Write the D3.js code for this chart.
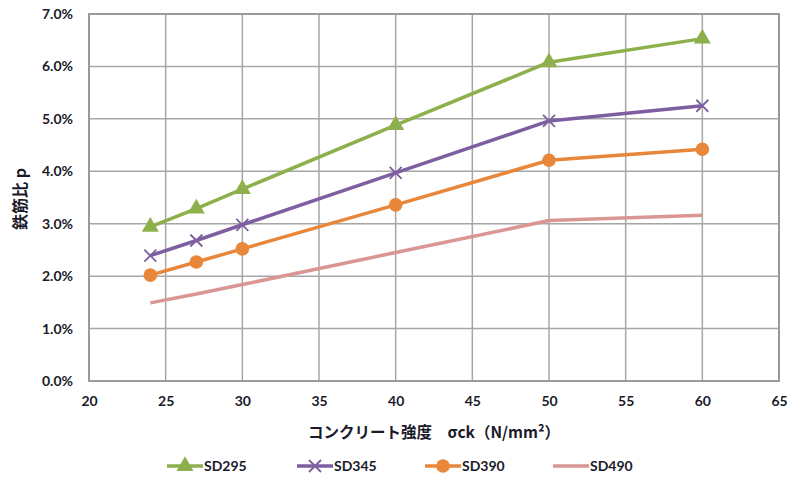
<!DOCTYPE html>
<html><head><meta charset="utf-8">
<script src="https://cdn.jsdelivr.net/npm/d3@7"></script>
<style>body{margin:0;background:#fff}svg{display:block}</style>
</head><body><svg id="c" width="792" height="479"></svg>
<script>
const strength = [24, 27, 30, 40, 50, 60];
const sd295 = [2.94, 3.29, 3.66, 4.88, 6.08, 6.53];
const sd345 = [2.39, 2.68, 2.98, 3.97, 4.96, 5.25];
const sd390 = [2.02, 2.27, 2.52, 3.36, 4.21, 4.42];
const sd490 = [1.49, 1.66, 1.84, 2.45, 3.06, 3.16];
const seriesNames = ["SD295", "SD345", "SD390", "SD490"];
const xTicks = [20, 25, 30, 35, 40, 45, 50, 55, 60, 65];
const yTicks = [0, 1, 2, 3, 4, 5, 6, 7];

const colors = ["#8DB04C", "#7D5FA1", "#E8873A", "#D99694"];
const markers = ["triangle", "x", "circle", "none"];
const data = [sd295, sd345, sd390, sd490];

const svg = d3.select("#c");
const L = 89, R = 779, T = 14, B = 381;
const x = d3.scaleLinear().domain([20, 65]).range([L, R]);
const y = d3.scaleLinear().domain([0, 7]).range([B, T]);
const font = "Lato, 'Liberation Sans', sans-serif";
const txt = "#1a1a2a";

// gridlines
const g = svg.append("g");
g.selectAll(".vx").data(xTicks).join("line")
  .attr("x1", d => x(d)).attr("x2", d => x(d)).attr("y1", T).attr("y2", B)
  .attr("stroke", "#a6a6a6").attr("stroke-width", 1.5);
g.selectAll(".hy").data(yTicks).join("line")
  .attr("x1", L).attr("x2", R).attr("y1", d => y(d)).attr("y2", d => y(d))
  .attr("stroke", "#a6a6a6").attr("stroke-width", 1.5);
svg.append("rect").attr("x", L).attr("y", T).attr("width", R - L).attr("height", B - T)
  .attr("fill", "none").attr("stroke", "#9a9a9a").attr("stroke-width", 2);

// axes (labels only, via d3 axis)
const xa = svg.append("g").attr("transform", `translate(0,${B})`)
  .call(d3.axisBottom(x).tickValues(xTicks).tickSize(0).tickPadding(15).tickFormat(d3.format("d")));
xa.select(".domain").remove();
xa.selectAll("text").attr("font-family", font).attr("font-size", 14).attr("font-weight", "bold").attr("fill", txt);

const ya = svg.append("g").attr("transform", `translate(${L},0)`)
  .call(d3.axisLeft(y).tickValues(yTicks).tickSize(0).tickPadding(16).tickFormat(d => d.toFixed(1) + "%"));
ya.select(".domain").remove();
ya.selectAll("text").attr("font-family", font).attr("font-size", 14).attr("font-weight", "bold").attr("fill", txt);

// titles
svg.append("text").attr("x", 434).attr("y", 438).attr("text-anchor", "middle")
  .attr("font-family", "'Noto Sans CJK JP', sans-serif").attr("font-size", 15.5).attr("font-weight", "bold").attr("fill", txt)
  .text("コンクリート強度　σck（N/mm²）");
svg.append("text").attr("transform", "translate(26,199) rotate(-90)").attr("text-anchor", "middle")
  .attr("font-family", "'Noto Sans CJK JP', sans-serif").attr("font-size", 16).attr("font-weight", "bold").attr("fill", txt)
  .text("鉄筋比 p");

function drawMarker(sel, type, color, cx, cy) {
  if (type === "triangle") {
    sel.append("path").attr("d", d3.symbol(d3.symbolTriangle, 125)()).attr("transform", `translate(${cx},${cy})`).attr("fill", color);
  } else if (type === "circle") {
    sel.append("circle").attr("cx", cx).attr("cy", cy).attr("r", 6.8).attr("fill", color);
  } else if (type === "x") {
    const s = 6;
    sel.append("path").attr("d", `M${cx - s},${cy - s}L${cx + s},${cy + s}M${cx - s},${cy + s}L${cx + s},${cy - s}`)
      .attr("stroke", color).attr("stroke-width", 1.8).attr("fill", "none");
  }
}

const line = d3.line().x((d, i) => x(strength[i])).y(d => y(d));
data.forEach((vals, k) => {
  const sg = svg.append("g");
  sg.append("path").datum(vals).attr("d", line).attr("fill", "none")
    .attr("stroke", colors[k]).attr("stroke-width", 3.5).attr("stroke-linejoin", "round");
  vals.forEach((v, i) => drawMarker(sg, markers[k], colors[k], x(strength[i]), y(v)));
});

// legend
const legX = [167, 297, 425, 553];
seriesNames.forEach((n, k) => {
  const lg = svg.append("g");
  const lx = legX[k], ly = 466;
  lg.append("line").attr("x1", lx).attr("x2", lx + 36).attr("y1", ly).attr("y2", ly)
    .attr("stroke", colors[k]).attr("stroke-width", 3.5);
  drawMarker(lg, markers[k], colors[k], lx + 18, ly);
  lg.append("text").attr("x", lx + 37).attr("y", ly + 5).attr("font-family", font).attr("font-size", 14)
    .attr("font-weight", "bold").attr("fill", txt).text(n);
});
</script></body></html>
